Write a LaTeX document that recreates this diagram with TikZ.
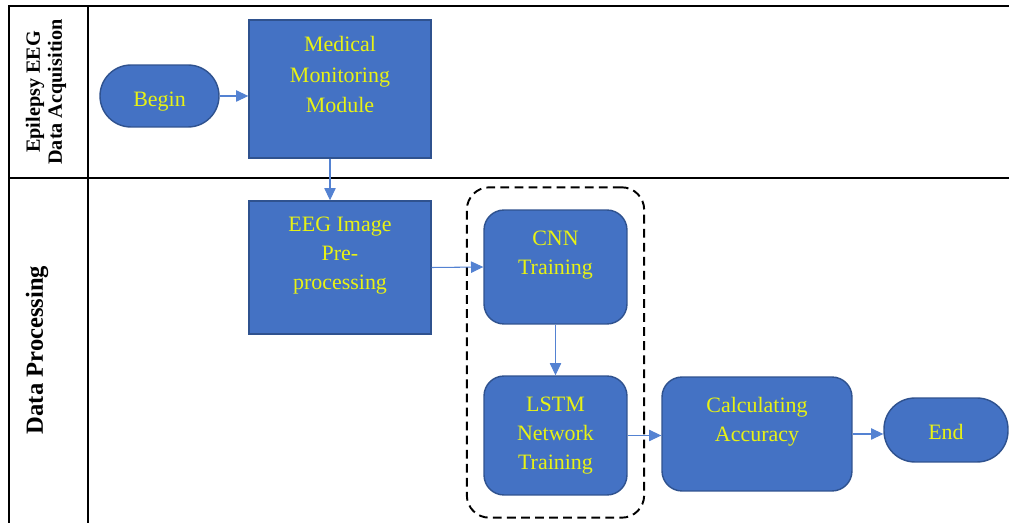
\documentclass[tikz,border=0pt]{standalone}
\usepackage{fontspec}
\setmainfont{Liberation Serif}
\usepackage{tikz}
\usetikzlibrary{arrows.meta, positioning, calc, fit}
\definecolor{procblue}{RGB}{68, 114, 196}
\definecolor{procedge}{RGB}{47, 82, 143}
\definecolor{proctext}{RGB}{232, 242, 20}
\definecolor{flowblue}{RGB}{84, 130, 210}

\begin{document}
\begin{tikzpicture}[
    x=0.02cm, y=-0.02cm,
    box/.style={draw=procedge, thick, fill=procblue, text=proctext, align=center,
        font=\fontsize{12.5}{16.5}\selectfont, inner sep=0pt},
    roundbox/.style={box, rounded corners=0.4cm},
    pill/.style={box, rounded corners=0.62cm},
    flow/.style={-{Triangle[length=7pt, width=6.5pt]}, flowblue, semithick},
    lane/.style={rotate=90, align=center, font=\bfseries}
]
    \useasboundingbox (0,0) rectangle (1009,523);

    % Swimlane frame
    \draw[thick] (9,523) -- (9,6) -- (1009,6);
    \draw[thick] (88,6) -- (88,523);
    \draw[thick] (9,178) -- (1009,178);

    % Lane titles
    \node[lane, font=\bfseries\fontsize{11.5}{12.5}\selectfont] (acqlane) at (46,92) {Epilepsy EEG\\Data Acquisition};
    \node[lane, font=\bfseries\fontsize{14}{16}\selectfont] (proclane) at (37,350) {Data Processing};

    % Process steps
    \node[pill, minimum width=2.38cm, minimum height=1.24cm] (begin) at (159.5,96) {\raisebox{-3pt}[\height][\depth]{Begin}};
    \node[box, minimum width=3.64cm, minimum height=2.76cm] (med) at (340,89) {Medical\\[1pt]Monitoring\\[1pt]Module\\[0pt]~};
    \node[box, minimum width=3.64cm, minimum height=2.66cm] (eeg) at (340,267.5) {EEG Image\\Pre-\\processing\\[0pt]~};
    \node[roundbox, minimum width=2.86cm, minimum height=2.28cm] (cnn) at (555.5,267) {CNN\\Training\\[0pt]~};
    \node[roundbox, minimum width=2.86cm, minimum height=2.38cm] (lstm) at (555.5,435.5) {LSTM\\Network\\Training};
    \node[roundbox, minimum width=3.8cm, minimum height=2.28cm] (calc) at (757,434) {Calculating\\Accuracy\\[0pt]~};
    \node[pill, minimum width=2.48cm, minimum height=1.28cm] (end) at (946,430) {\raisebox{-1pt}[\height][\depth]{End}};

    % Group of the two training steps
    \node[draw, dashed, line width=1.1pt, rounded corners=0.45cm, inner xsep=0.33cm, inner ysep=0.44cm,
        dash pattern=on 5pt off 3pt, fit=(cnn)(lstm)] (train) {};

    % Connectors
    \draw[flow] (begin.east) -- (begin.east -| med.west);
    \draw[flow] ([xshift=-0.2cm]med.south) -- ([xshift=-0.2cm]eeg.north);
    \draw[flow] (eeg.east) -- (cnn.west);
    \draw[flow] (cnn.south) -- (lstm.north);
    \draw[flow] (lstm.east) -- (lstm.east -| calc.west);
    \draw[flow] (calc.east) -- (calc.east -| end.west);

\end{tikzpicture}
\end{document}
